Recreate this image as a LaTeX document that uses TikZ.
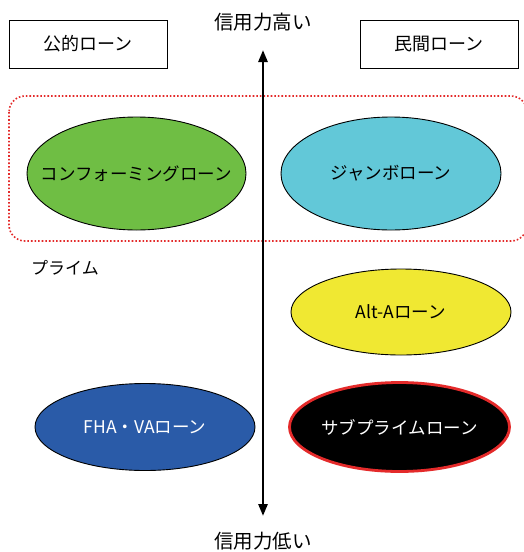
\documentclass[tikz,border=0pt]{standalone}
\usepackage{fontspec}
\setmainfont{Noto Sans CJK JP}
\usetikzlibrary{shapes.geometric,arrows.meta}
\definecolor{cgreen}{HTML}{6FBE44}
\definecolor{ccyan}{HTML}{62C8D8}
\definecolor{cyellow}{HTML}{F0E832}
\definecolor{cblue}{HTML}{2A5BA8}
\definecolor{cred}{HTML}{E42A2A}
\newcommand{\zw}[1]{\makebox[0pt]{#1}}
\begin{document}
\begin{tikzpicture}[x=1pt,y=-1pt,
  lbl/.style={font=\fontsize{19.5}{22}\selectfont, inner sep=0pt},
  catbox/.style={draw, line width=0.9pt, minimum width=158pt, minimum height=48pt, inner sep=0pt, font=\fontsize{18}{20}\selectfont},
  loan/.style={ellipse, draw, line width=0.9pt, inner sep=0pt, font=\fontsize{17.5}{20}\selectfont},
  axis/.style={line width=2.6pt, {Triangle[length=12pt,width=9pt]}-{Triangle[length=12pt,width=9pt]}}
]
\useasboundingbox (0,0) rectangle (524,552);
\fill[white] (0,0) rectangle (524,552);
% prime group
\draw[cred, line width=1.6pt, dotted, rounded corners=16pt] (9,96) rectangle (527,241);
% category boxes
\node[catbox] (pub) at (88,44) {公的ローン};
\node[catbox] (priv) at (439,44) {民間ローン};
% axis labels
\node[lbl] (hi) at (263,22) {信用力高い};
\node[lbl] (lo) at (263,541) {信用力低い};
\coordinate (atop) at (263,50);
\coordinate (abot) at (263,516);
\draw[axis] (abot) -- (atop);
% loans
\node[loan, fill=cgreen, minimum width=219pt, minimum height=113pt] (conf) at (136.5,173.5) {\zw{コンフォーミングローン}};
\node[loan, fill=ccyan, minimum width=220pt, minimum height=113pt] (jumbo) at (391,173.5) {\zw{ジャンボローン}};
\node[lbl, font=\fontsize{17}{20}\selectfont] (prime) at (65,268) {プライム};
\node[loan, fill=cyellow, minimum width=220pt, minimum height=86pt] (alta) at (401,312) {\zw{Alt-Aローン}};
\node[loan, fill=cblue, text=white, minimum width=220pt, minimum height=87pt] (fha) at (145,427) {\zw{FHA・VAローン}};
\node[loan, fill=black, text=white, draw=cred, line width=2.8pt, minimum width=220pt, minimum height=89pt] (sub) at (399.5,427) {\zw{サブプライムローン}};
\end{tikzpicture}
\end{document}
